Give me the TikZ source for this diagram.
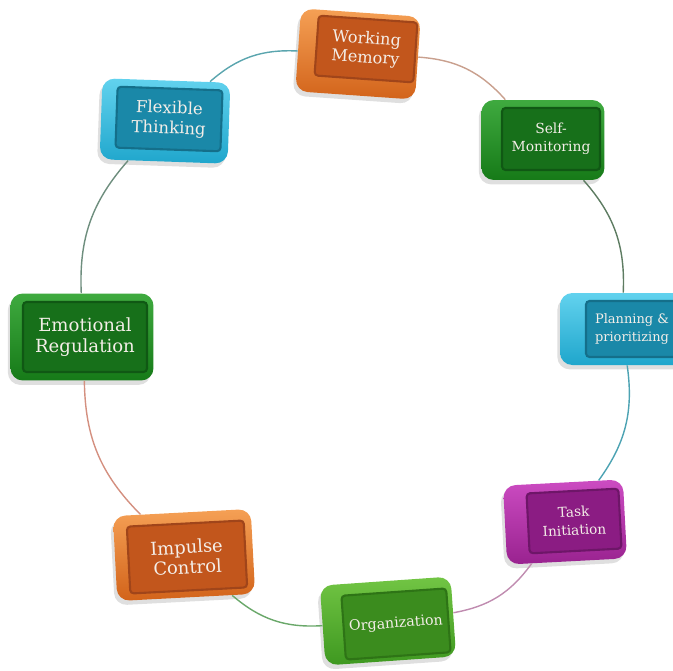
\documentclass[tikz,border=0pt]{standalone}
\usepackage{fontspec}
\setmainfont{DejaVu Serif}
\usetikzlibrary{shadows}

\definecolor{orlt}{HTML}{F5A055}
\definecolor{ordk}{HTML}{D2631A}
\definecolor{orface}{HTML}{C2561C}
\definecolor{orrim}{HTML}{A0451A}
\definecolor{dglt}{HTML}{3FAA3F}
\definecolor{dgdk}{HTML}{167A18}
\definecolor{dgface}{HTML}{17701A}
\definecolor{dgrim}{HTML}{105814}
\definecolor{bult}{HTML}{62D2EE}
\definecolor{budk}{HTML}{1FA6CC}
\definecolor{buface}{HTML}{1A88A8}
\definecolor{burim}{HTML}{146F8A}
\definecolor{mglt}{HTML}{CC4CC2}
\definecolor{mgdk}{HTML}{99228F}
\definecolor{mgface}{HTML}{8B1C83}
\definecolor{mgrim}{HTML}{6E1668}
\definecolor{lglt}{HTML}{72C544}
\definecolor{lgdk}{HTML}{3E9820}
\definecolor{lgface}{HTML}{3B8C1E}
\definecolor{lgrim}{HTML}{2E7416}
\definecolor{keytext}{HTML}{F4EEE8}

\begin{document}
\begin{tikzpicture}[x=0.02cm, y=-0.02cm,
key/.style = {rectangle, rounded corners=7pt, top color=#1lt, bottom color=#1dk,
  drop shadow={shadow xshift=-1.5pt, shadow yshift=-2.5pt, opacity=0.25}},
face/.style = {rectangle, rounded corners=2pt, fill=#1face, draw=#1rim, line width=1.2pt,
  text=keytext, align=center, inner sep=0pt, font=\fontsize{10.3}{11.6}\selectfont},
link/.style = {line width=0.8pt}]
\useasboundingbox (0,0) rectangle (673,670);

\node[key=or, minimum width=2.4cm, minimum height=1.66cm, rotate=-4] at (358,54) (wm) {};
\node[face=or, minimum width=1.98cm, minimum height=1.2cm, rotate=-4, font=\fontsize{9.2}{10.6}\selectfont] at (366,49) (wmf) {Working\\Memory};

\node[key=dg, minimum width=2.46cm, minimum height=1.6cm] at (543,140) (sm) {};
\node[face=dg, minimum width=1.96cm, minimum height=1.24cm, font=\fontsize{7.9}{10}\selectfont] at (551,139) (smf) {Self-\\Monitoring};

\node[key=bu, minimum width=2.56cm, minimum height=1.62cm, rotate=-2] at (165,121) (ft) {};
\node[face=bu, minimum width=2.1cm, minimum height=1.22cm, rotate=-2, font=\fontsize{9.4}{11.4}\selectfont] at (169,119) (ftf) {Flexible\\Thinking};

\node[key=dg, minimum width=2.86cm, minimum height=1.74cm] at (82,337) (er) {};
\node[face=dg, minimum width=2.48cm, minimum height=1.4cm] at (85,337) (erf) {Emotional\\Regulation};

\node[key=bu, minimum width=2.56cm, minimum height=1.44cm] at (624,329) (pp) {};
\node[face=bu, minimum width=1.84cm, minimum height=1.12cm, font=\fontsize{7.4}{10.4}\selectfont] at (632,329) (ppf) {Planning \&\\prioritizing};

\node[key=mg, minimum width=2.4cm, minimum height=1.58cm, rotate=3] at (565,522) (ti) {};
\node[face=mg, minimum width=1.84cm, minimum height=1.2cm, rotate=3, font=\fontsize{7.8}{10.4}\selectfont] at (574,521) (tif) {Task\\Initiation};

\node[key=or, minimum width=2.76cm, minimum height=1.7cm, rotate=3] at (184,555) (ic) {};
\node[face=or, minimum width=2.34cm, minimum height=1.34cm, rotate=3, font=\fontsize{10.2}{11.6}\selectfont] at (187,557) (icf) {Impulse\\Control};

\node[key=lg, minimum width=2.62cm, minimum height=1.6cm, rotate=4] at (388,621) (org) {};
\node[face=lg, minimum width=2.1cm, minimum height=1.28cm, rotate=4, font=\fontsize{8.1}{10}\selectfont] at (396,624) (orgf) {Organization};

\draw[link, color={rgb,255:red,90;green,165;blue,174}] (ft) to[bend left=22] (wm);
\draw[link, color={rgb,255:red,201;green,160;blue,142}] (wm) to[bend left=22] (sm);
\draw[link, color={rgb,255:red,94;green,124;blue,98}] (sm) to[bend left=22] (pp);
\draw[link, color={rgb,255:red,77;green,163;blue,179}] (pp) to[bend left=22] (ti);
\draw[link, color={rgb,255:red,192;green,140;blue,176}] (ti) to[bend left=22] (org);
\draw[link, color={rgb,255:red,106;green,168;blue,106}] (org) to[bend left=22] (ic);
\draw[link, color={rgb,255:red,212;green,144;blue,128}] (ic) to[bend left=22] (er);
\draw[link, color={rgb,255:red,110;green,142;blue,126}] (er) to[bend left=22] (ft);
\end{tikzpicture}
\end{document}
